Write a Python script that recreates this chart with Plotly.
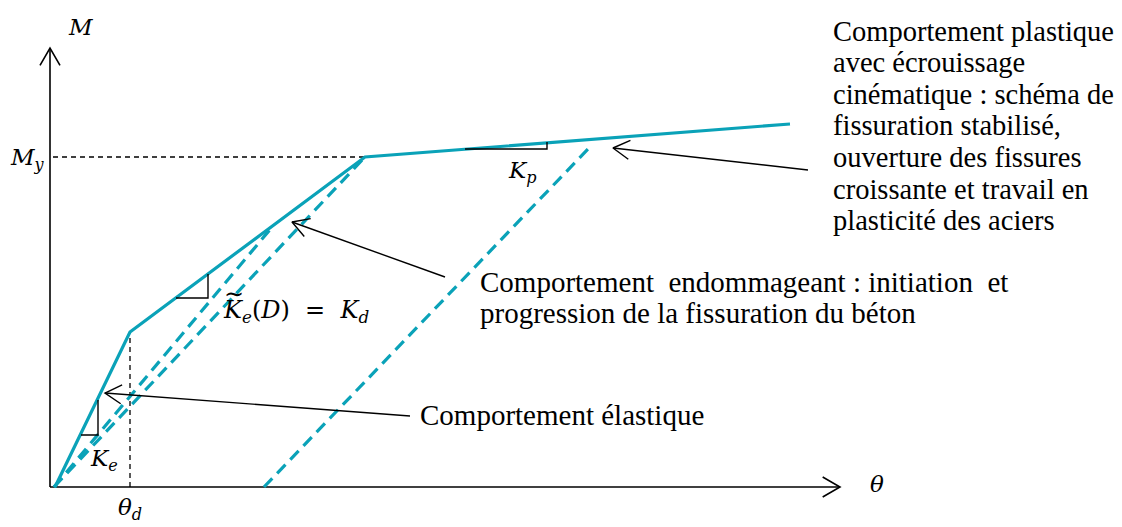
import math
import plotly.graph_objects as go

CYAN = "#0AA2B8"
SERIF = "Liberation Serif"
MATH = "DejaVu Serif"

# ---- data (theta, M) in diagram units ----
env_theta = [5, 80, 315, 740]
env_M = [0, 155, 330, 363]

unload_A_theta = [4, 223]
unload_A_M = [0, 261]
unload_B_theta = [4, 315]
unload_B_M = [0, 330]
unload_C_theta = [214, 538]
unload_C_M = [0, 338]

theta_d = 80
M_d = 155
M_y = 330
theta_y = 315

axis_theta_max = 790
axis_M_max = 439

tri_e_theta = [31, 48, 48]
tri_e_M = [52, 52, 87]
tri_d_theta = [126, 158, 158]
tri_d_M = [189, 189, 213]
tri_p_theta = [415, 497, 497]
tri_p_M = [338, 338, 345]

# pointer arrows: tail -> tip
arrow_tail_theta = [360, 395, 758]
arrow_tail_M = [71, 210, 317]
arrow_tip_theta = [55, 242, 563]
arrow_tip_M = [94, 265, 339]

plastic_lines = [
    "Comportement plastique",
    "avec écrouissage",
    "cinématique : schéma de",
    "fissuration stabilisé,",
    "ouverture des fissures",
    "croissante et travail en",
    "plasticité des aciers",
]
plastic_theta = 781
plastic_M = [456, 425, 393, 362, 330, 298, 267]

damage_lines = [
    "Comportement  endommageant : initiation  et",
    "progression de la fissuration du béton",
]
damage_theta = 428
damage_M = [205, 174]

elastic_text = "Comportement élastique"
elastic_theta = 368
elastic_M = 72

fig = go.Figure()


def line(xs, ys, color, width, dash="solid"):
    fig.add_trace(go.Scatter(x=xs, y=ys, mode="lines",
                             line=dict(color=color, width=width, dash=dash),
                             hoverinfo="skip", showlegend=False))


def chevron(tx, ty, fx, fy, length=19, half_angle=30):
    ang = math.atan2(fy - ty, fx - tx)
    a1 = ang + math.radians(half_angle)
    a2 = ang - math.radians(half_angle)
    xs = [tx + length * math.cos(a1), tx, tx + length * math.cos(a2)]
    ys = [ty + length * math.sin(a1), ty, ty + length * math.sin(a2)]
    return xs, ys


# axes
line([0, 0], [0, axis_M_max], "black", 1.6)
line([0, axis_theta_max], [0, 0], "black", 1.6)
cx, cy = chevron(0, axis_M_max, 0, 0, 20, 30)
line(cx, cy, "black", 1.6)
cx, cy = chevron(axis_theta_max, 0, 0, 0, 20, 30)
line(cx, cy, "black", 1.6)

# reference dashed lines
line([3, theta_y], [M_y, M_y], "black", 1.3, "5px,4px")
line([theta_d, theta_d], [0, M_d], "black", 1.3, "5px,4px")

# unloading dashed lines
for xs, ys in [(unload_A_theta, unload_A_M), (unload_B_theta, unload_B_M),
               (unload_C_theta, unload_C_M)]:
    line(xs, ys, CYAN, 3.2, "12px,7px")

# envelope
line(env_theta, env_M, CYAN, 3.2)

# slope triangles
for xs, ys in [(tri_e_theta, tri_e_M), (tri_d_theta, tri_d_M), (tri_p_theta, tri_p_M)]:
    line(xs, ys, "black", 1.4)

# pointer arrows
for tx0, ty0, tx1, ty1 in zip(arrow_tail_theta, arrow_tail_M, arrow_tip_theta, arrow_tip_M):
    line([tx0, tx1], [ty0, ty1], "black", 1.4)
    cx, cy = chevron(tx1, ty1, tx0, ty0, 19, 30)
    line(cx, cy, "black", 1.4)

ann = []


def text(x, y, s, size=29, xanchor="left", yanchor="middle", family=SERIF):
    ann.append(dict(x=x, y=y, xref="x", yref="y", text=s, showarrow=False,
                    xanchor=xanchor, yanchor=yanchor,
                    font=dict(family=family, size=size, color="black")))


for s, m in zip(plastic_lines, plastic_M):
    text(plastic_theta, m, s, 28.5)
for s, m in zip(damage_lines, damage_M):
    text(damage_theta, m, s)
text(elastic_theta, elastic_M, elastic_text)

# math labels
text(31, 460, "<i>M</i>", 23, "center", family=MATH)
text(-3, 328, "<i>M</i><sub><i>y</i></sub>", 23, "right", family=MATH)
text(472, 315, "<i>K</i><sub><i>p</i></sub>", 23, "center", family=MATH)
text(171, 176, "<i>K</i><sub><i>e</i></sub>(<i>D</i>)  =  <i>K</i><sub><i>d</i></sub>", 24, "left", family=MATH)
text(184, 193, "∼", 24, "center", family=MATH)
text(38, 27, "<i>K</i><sub><i>e</i></sub>", 23, "left", family=MATH)
text(80, -22, "<i>θ</i><sub><i>d</i></sub>", 23, "center", family=MATH)
text(827, 3, "<i>θ</i>", 23, "center", family=MATH)

fig.update_layout(
    width=1114, height=519,
    margin=dict(l=0, r=0, t=0, b=0),
    paper_bgcolor="white", plot_bgcolor="white",
    xaxis=dict(range=[-42, 1072], visible=False, fixedrange=True),
    yaxis=dict(range=[-40, 479], visible=False, fixedrange=True),
    annotations=ann,
    showlegend=False,
)

fig.write_html("out.html")
